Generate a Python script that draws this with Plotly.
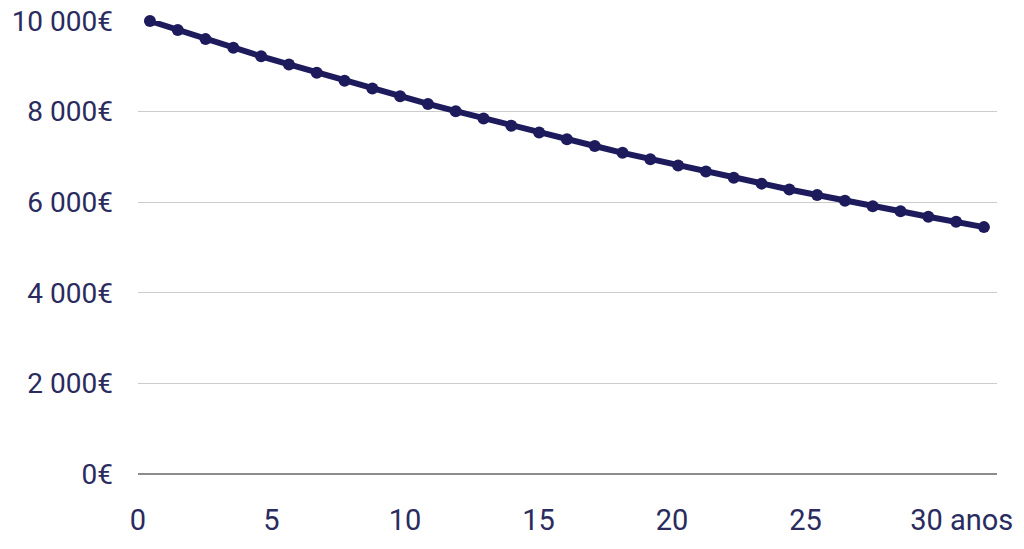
import plotly.graph_objects as go

years = list(range(0, 31))
values = [10000, 9800, 9600, 9410, 9220, 9040, 8860, 8680, 8510, 8340,
          8170, 8010, 7850, 7690, 7540, 7390, 7240, 7090, 6950, 6810,
          6680, 6540, 6410, 6280, 6160, 6030, 5910, 5800, 5680, 5570, 5450]

y_ticks = [0, 2000, 4000, 6000, 8000, 10000]
y_labels = ["0€", "2 000€", "4 000€", "6 000€", "8 000€", "10 000€"]
x_ticks = [0, 5, 10, 15, 20, 25, 30.85]
x_labels = ["0", "5", "10", "15", "20", "25", "30 anos"]

navy = "#1d1b5c"
text_color = "#2a2b5e"

fig = go.Figure()
fig.add_trace(go.Scatter(
    x=years, y=values, mode="lines+markers",
    line=dict(color=navy, width=6),
    marker=dict(color=navy, size=12),
    cliponaxis=False, showlegend=False, hoverinfo="skip",
))
# carries the year labels axis
fig.add_trace(go.Scatter(
    x=x_ticks, y=[0] * len(x_ticks), xaxis="x2", mode="markers",
    marker=dict(opacity=0), showlegend=False, hoverinfo="skip",
))

fig.update_layout(
    width=1024, height=549,
    margin=dict(l=138, r=27, t=21, b=75),
    paper_bgcolor="white", plot_bgcolor="white",
    font=dict(family="Roboto", color=text_color),
    xaxis=dict(range=[-0.43, 30.47], showgrid=False, zeroline=False,
               showticklabels=False, showline=False, automargin=False),
    xaxis2=dict(overlaying="x", side="bottom", range=[0, 32.17],
                tickvals=x_ticks, ticktext=x_labels, showgrid=False,
                zeroline=False, showline=False, ticks="", automargin=False,
                ticklabeloverflow="allow",
                tickfont=dict(size=29, color=text_color),
                ticklabelstandoff=26),
    yaxis=dict(range=[0, 10000], tickvals=y_ticks, ticktext=y_labels,
               showgrid=True, gridcolor="#cccccc", gridwidth=1,
               zeroline=True, zerolinecolor="#8c8c8c", zerolinewidth=1.5,
               showline=False, ticks="", ticklabeloverflow="allow",
               automargin=False,
               tickfont=dict(size=28, color=text_color),
               ticklabelstandoff=24),
)

fig.write_html("out.html", config={"displayModeBar": False},
               post_script="document.body.style.margin='0';")
